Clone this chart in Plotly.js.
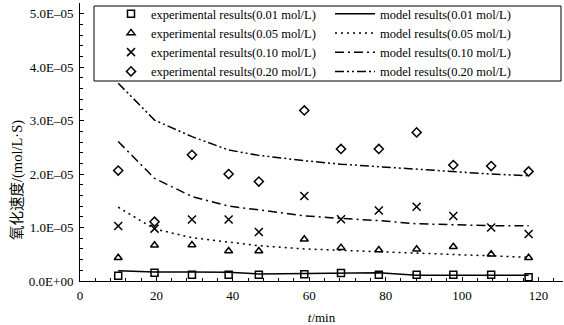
<!DOCTYPE html>
<html>
<head>
<meta charset="utf-8">
<script src="https://cdn.plot.ly/plotly-3.0.1.min.js"></script>
<style>html,body{margin:0;padding:0;background:#fff;}#chart{width:564px;height:325px;}</style>
</head>
<body>
<div id="chart"></div>
<script>
// time (min)
const tTime = [10, 19.5, 29.3, 38.9, 46.8, 58.7, 68.3, 78.2, 88.1, 97.7, 107.6, 117.4];
// experimental results (mol/L·S)
const exp001 = [0.10e-5, 0.155e-5, 0.118e-5, 0.118e-5, 0.118e-5, 0.125e-5, 0.15e-5, 0.118e-5, 0.118e-5, 0.118e-5, 0.118e-5, 0.07e-5];
const exp005 = [0.436e-5, 0.668e-5, 0.674e-5, 0.562e-5, 0.562e-5, 0.78e-5, 0.624e-5, 0.58e-5, 0.594e-5, 0.642e-5, 0.5e-5, 0.436e-5];
const exp010 = [1.03e-5, 0.98e-5, 1.15e-5, 1.15e-5, 0.918e-5, 1.59e-5, 1.155e-5, 1.32e-5, 1.39e-5, 1.217e-5, 1.0e-5, 0.88e-5];
const exp020 = [2.066e-5, 1.11e-5, 2.36e-5, 2.0e-5, 1.86e-5, 3.19e-5, 2.47e-5, 2.47e-5, 2.78e-5, 2.17e-5, 2.15e-5, 2.05e-5];
// model results
const mod001 = [0.193e-5, 0.169e-5, 0.169e-5, 0.163e-5, 0.131e-5, 0.144e-5, 0.155e-5, 0.155e-5, 0.107e-5, 0.107e-5, 0.107e-5, 0.107e-5];
const mod005 = [1.38e-5, 0.974e-5, 0.81e-5, 0.724e-5, 0.66e-5, 0.6e-5, 0.575e-5, 0.55e-5, 0.53e-5, 0.5e-5, 0.474e-5, 0.444e-5];
const mod010 = [2.61e-5, 1.92e-5, 1.58e-5, 1.40e-5, 1.33e-5, 1.22e-5, 1.17e-5, 1.13e-5, 1.07e-5, 1.05e-5, 1.035e-5, 1.035e-5];
const mod020 = [3.70e-5, 3.01e-5, 2.70e-5, 2.45e-5, 2.35e-5, 2.25e-5, 2.185e-5, 2.14e-5, 2.09e-5, 2.05e-5, 2.0e-5, 1.97e-5];

const expNames = ['experimental results(0.01 mol/L)', 'experimental results(0.05 mol/L)', 'experimental results(0.10 mol/L)', 'experimental results(0.20 mol/L)'];
const modNames = ['model results(0.01 mol/L)', 'model results(0.05 mol/L)', 'model results(0.10 mol/L)', 'model results(0.20 mol/L)'];
const yTickVals = [0, 1e-5, 2e-5, 3e-5, 4e-5, 5e-5];
const yTickText = ['0.0E+00', '1.0E–05', '2.0E–05', '3.0E–05', '4.0E–05', '5.0E–05'];
const xTickVals = [0, 20, 40, 60, 80, 100, 120];

const expData = [exp001, exp005, exp010, exp020];
const modData = [mod001, mod005, mod010, mod020];
const symbols = ['square-open', 'triangle-up-open', 'x-thin-open', 'diamond-open'];
const sizes = [7, 7, 8, 7];
const dashes = ['solid', '2px,4px', '9px,4px,2px,4px', '9px,3px,2px,3px,2px,3px'];

const traces = [];
for (let i = 0; i < 4; i++) {
  traces.push({
    x: tTime, y: expData[i], mode: 'markers', type: 'scatter', name: expNames[i], legend: 'legend',
    marker: {symbol: symbols[i], size: sizes[i], color: '#000', line: {color: '#000', width: 1.5}}
  });
}
for (let i = 0; i < 4; i++) {
  traces.push({
    x: tTime, y: modData[i], mode: 'lines', type: 'scatter', name: modNames[i], legend: 'legend2',
    line: {color: '#000', width: 1.5, dash: dashes[i]}
  });
}

const fam = '"Liberation Serif", "Times New Roman", serif';
const font = {family: fam, size: 12, color: '#000'};
const W = 564, H = 325, ML = 80, MR = 1, MT = 3, MB = 44;
const pw = W - ML - MR, ph = H - MT - MB;
const px2x = p => (p - ML) / pw;
const px2y = p => (H - MB - p) / ph;

const legendCommon = {
  orientation: 'v', xanchor: 'left', yanchor: 'top',
  borderwidth: 0, bgcolor: 'rgba(0,0,0,0)',
  font: {family: fam, size: 12.5, color: '#000'},
  traceorder: 'normal'
};

const layout = {
  width: W, height: H,
  margin: {l: ML, r: MR, t: MT, b: MB, autoexpand: false},
  paper_bgcolor: '#fff', plot_bgcolor: '#fff',
  font: font,
  showlegend: true,
  legend: Object.assign({}, legendCommon, {x: px2x(111), y: px2y(-1)}),
  legend2: Object.assign({}, legendCommon, {x: px2x(330), y: px2y(-1), itemwidth: 40}),
  shapes: [{
    type: 'rect', xref: 'paper', yref: 'paper',
    x0: px2x(94), x1: px2x(561), y0: px2y(6), y1: px2y(81),
    line: {color: '#000', width: 1}, fillcolor: 'rgba(0,0,0,0)', layer: 'above'
  }],
  xaxis: {
    range: [0, 126.4], tickvals: xTickVals, ticktext: xTickVals.map(String),
    showgrid: false, zeroline: false, showline: true, linecolor: '#000', linewidth: 1,
    ticks: 'inside', ticklen: 4, tickcolor: '#000', ticklabelstandoff: 2,
    minor: {dtick: 4, tick0: 0, ticks: 'inside', ticklen: 3, tickcolor: '#000'},
    tickfont: {family: fam, size: 13, color: '#000'},
    title: {text: '<i>t</i>/min', font: {family: fam, size: 13, color: '#000'}, standoff: 12}
  },
  yaxis: {
    range: [0, 5.2e-5], tickvals: yTickVals, ticktext: yTickText,
    showgrid: false, zeroline: false, showline: true, linecolor: '#000', linewidth: 1,
    ticks: 'inside', ticklen: 4, tickcolor: '#000', ticklabelstandoff: 3,
    minor: {dtick: 0.2e-5, tick0: 0, ticks: 'inside', ticklen: 3, tickcolor: '#000'},
    tickfont: {family: fam, size: 13, color: '#000'}
  },
  annotations: [{
    text: '氧化速度/(mol/L·S)', xref: 'paper', yref: 'paper',
    x: px2x(17), y: px2y(180), xanchor: 'center', yanchor: 'middle', textangle: -90, showarrow: false,
    font: {family: '"Liberation Serif", "Noto Sans CJK SC", serif', size: 14.5, color: '#000'}
  }]
};

Plotly.newPlot('chart', traces, layout, {displayModeBar: false, staticPlot: true});
</script>
</body>
</html>
